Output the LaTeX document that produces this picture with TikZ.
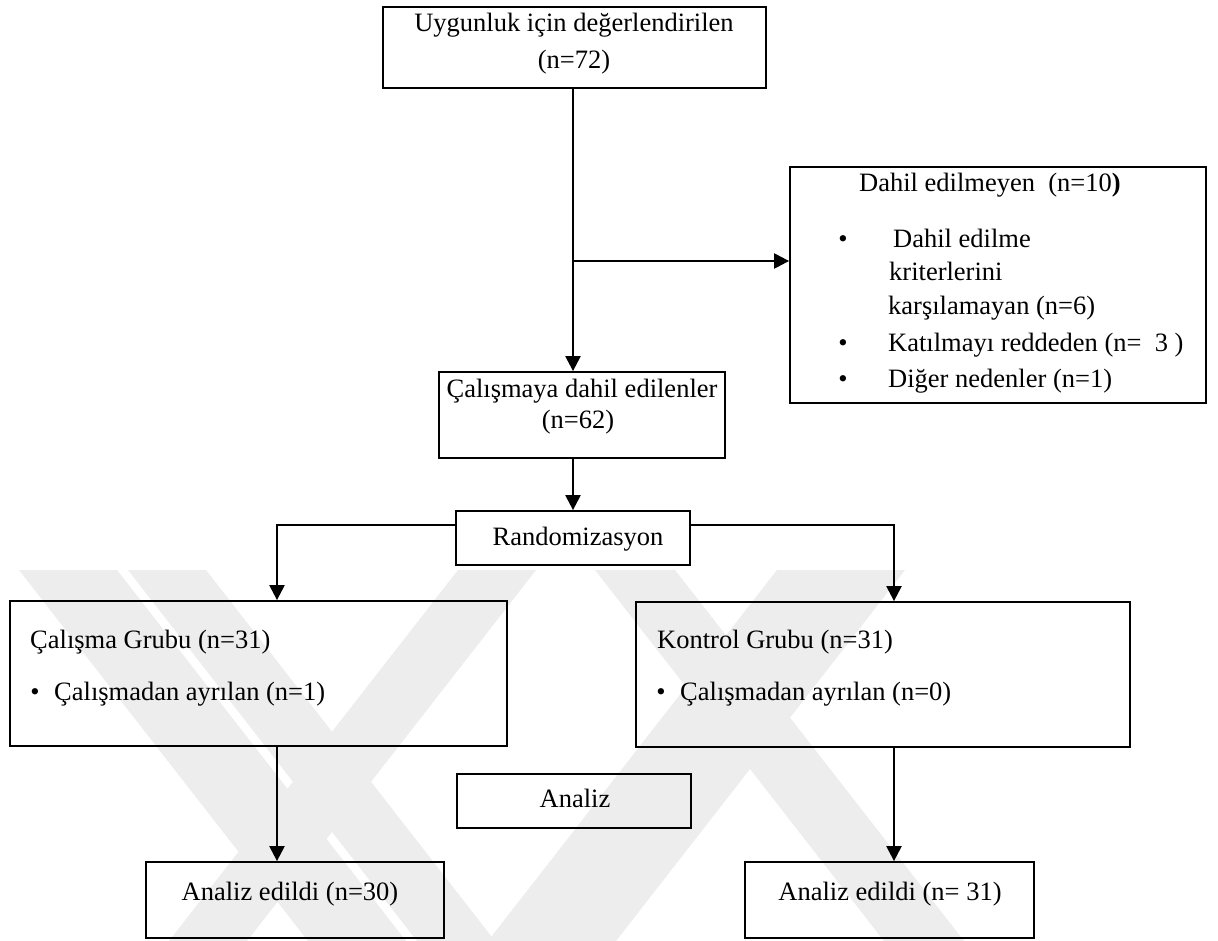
\documentclass[tikz,border=0pt]{standalone}
\usepackage{fontspec}
\setmainfont{Liberation Serif}
\usetikzlibrary{arrows.meta}
\begin{document}
\begin{tikzpicture}[x=1pt,y=-1pt,
  box/.style={draw=black, line width=1.8pt, inner sep=0pt, fill=none},
  txt/.style={font=\fontsize{26.5}{30}\selectfont, inner sep=0pt},
  conn/.style={line width=2.3pt, draw=black},
  arr/.style={conn, -{Triangle[length=15pt,width=15pt]}},
  wm/.style={fill=black!7, draw=none}]
\useasboundingbox (0,0) rectangle (1218,941);
\fill[white] (0,0) rectangle (1218,941);

% faint watermark bands
\fill[wm] (19,570) -- (117,570) -- (406,941) -- (308,941) -- cycle;
\fill[wm] (128,570) -- (206,570) -- (495,941) -- (417,941) -- cycle;
\fill[wm] (458,570) -- (536,570) -- (247,941) -- (169,941) -- cycle;
\fill[wm] (777,570) -- (905,570) -- (616,941) -- (488,941) -- cycle;
\fill[wm] (595,570) -- (675,570) -- (964,941) -- (884,941) -- cycle;

% boxes
\node[box, minimum width=383pt, minimum height=81pt] (top) at (574.5,47.5) {};
\node[box, minimum width=416pt, minimum height=236pt] (excl) at (998,285) {};
\node[box, minimum width=286pt, minimum height=86pt] (inc) at (582,415) {};
\node[box, fill=white, minimum width=234pt, minimum height=54pt] (rando) at (573,538) {};
\node[box, minimum width=497pt, minimum height=145pt] (grp1) at (258.5,673.5) {};
\node[box, minimum width=494pt, minimum height=145pt] (grp2) at (883,674.5) {};
\node[box, minimum width=234pt, minimum height=54pt] (anl) at (574,801) {};
\node[box, minimum width=298pt, minimum height=76pt] (res1) at (295,900) {};
\node[box, minimum width=289pt, minimum height=76pt] (res2) at (889.5,900) {};

% texts
\node[txt, anchor=base] (t1a) at (574,32) {Uygunluk için değerlendirilen};
\node[txt, anchor=base] (t1b) at (574,69) {(n=72)};

\node[txt, anchor=base west] (t2) at (859,192) {Dahil edilmeyen\ \ (n=10{\bfseries )}};
\node[txt, anchor=base] (b1) at (843,248) {\textbullet};
\node[txt, anchor=base west] (t2a) at (893,248) {Dahil edilme};
\node[txt, anchor=base west] (t2b) at (889,281) {kriterlerini};
\node[txt, anchor=base west] (t2c) at (888,315) {karşılamayan (n=6)};
\node[txt, anchor=base] (b2) at (843,352) {\textbullet};
\node[txt, anchor=base west] (t2d) at (888,352) {Katılmayı reddeden (n=\ \ 3 )};
\node[txt, anchor=base] (b3) at (843,387) {\textbullet};
\node[txt, anchor=base west] (t2e) at (888,387) {Diğer nedenler (n=1)};

\node[txt, anchor=base] (t3a) at (582,397) {Çalışmaya dahil edilenler};
\node[txt, anchor=base] (t3b) at (578,428) {(n=62)};

\node[txt, anchor=base] (t4) at (578,545) {Randomizasyon};

\node[txt, anchor=base west] (t5a) at (30,648) {Çalışma Grubu (n=31)};
\node[txt, anchor=base] (b5) at (35,700) {\textbullet};
\node[txt, anchor=base west] (t5b) at (54,700) {Çalışmadan ayrılan (n=1)};

\node[txt, anchor=base west] (t6a) at (657,648) {Kontrol Grubu (n=31)};
\node[txt, anchor=base] (b6) at (661,700) {\textbullet};
\node[txt, anchor=base west] (t6b) at (680,700) {Çalışmadan ayrılan (n=0)};

\node[txt, anchor=base] (t7) at (575,807) {Analiz};
\node[txt, anchor=base] (t8) at (290,900) {Analiz edildi (n=30)};
\node[txt, anchor=base] (t9) at (890,900) {Analiz edildi (n=~31)};

% connectors
\coordinate (branch) at (573,261);
\coordinate (lb) at (277,525);
\coordinate (rb) at (894,525);

\draw[arr] (top.south -| rando.north) -- (inc.north -| rando.north);
\draw[arr] (branch) -- (branch -| excl.west);
\draw[arr] (inc.south -| rando.north) -- (rando.north);
\draw[arr] (lb -| rando.west) -- (lb) -- (lb |- grp1.north);
\draw[arr] (rb -| rando.east) -- (rb) -- (rb |- grp2.north);
\draw[arr] (lb |- grp1.south) -- (lb |- res1.north);
\draw[arr] (rb |- grp2.south) -- (rb |- res2.north);
\end{tikzpicture}
\end{document}
